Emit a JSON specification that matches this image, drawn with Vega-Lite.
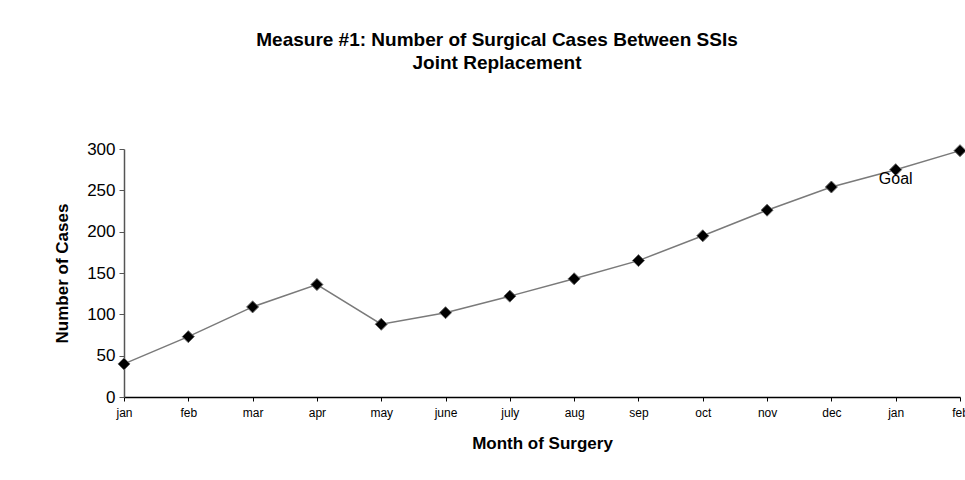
{
  "$schema": "https://vega.github.io/schema/vega-lite/v6.json",
  "autosize": "none",
  "width": 836,
  "height": 248,
  "padding": {"left": 124, "top": 149, "right": 5, "bottom": 83},
  "background": "white",
  "config": {
    "view": {"stroke": null},
    "font": "Liberation Sans"
  },
  "title": {
    "text": ["Measure #1: Number of Surgical Cases Between SSIs", "Joint  Replacement"],
    "fontSize": 19,
    "fontWeight": "bold",
    "font": "Liberation Sans",
    "color": "black",
    "lineHeight": 23,
    "anchor": "middle",
    "dx": -45,
    "offset": 67
  },
  "data": {
    "values": [
      {"period": "jan-1", "cases": 40},
      {"period": "feb-1", "cases": 73},
      {"period": "mar-1", "cases": 109},
      {"period": "apr-1", "cases": 136},
      {"period": "may-1", "cases": 88},
      {"period": "june-1", "cases": 102},
      {"period": "july-1", "cases": 122},
      {"period": "aug-1", "cases": 143},
      {"period": "sep-1", "cases": 165},
      {"period": "oct-1", "cases": 195},
      {"period": "nov-1", "cases": 226},
      {"period": "dec-1", "cases": 254},
      {"period": "jan-2", "cases": 275, "label": "Goal"},
      {"period": "feb-2", "cases": 298}
    ]
  },
  "encoding": {
    "x": {
      "field": "period",
      "type": "ordinal",
      "sort": null,
      "scale": {"type": "point", "padding": 0},
      "axis": {
        "title": "Month of Surgery",
        "labelExpr": "split(datum.value, '-')[0]",
        "labelAngle": 0,
        "labelFontSize": 12,
        "labelColor": "black",
        "labelPadding": 6,
        "labelOverlap": false,
        "labelFlush": false,
        "tickSize": 4,
        "tickColor": "black",
        "domainColor": "black",
        "domainWidth": 1.5,
        "titleFontSize": 17,
        "titleFontWeight": "bold",
        "titleColor": "black",
        "titlePadding": 17,
        "grid": false
      }
    },
    "y": {
      "field": "cases",
      "type": "quantitative",
      "scale": {"domain": [0, 300], "nice": false},
      "axis": {
        "title": "Number of Cases",
        "values": [0, 50, 100, 150, 200, 250, 300],
        "labelFontSize": 17,
        "labelColor": "black",
        "labelPadding": 4,
        "tickSize": 5,
        "tickColor": "#555555",
        "domainColor": "#555555",
        "domainWidth": 1.5,
        "titleFontSize": 17,
        "titleFontWeight": "bold",
        "titleColor": "black",
        "titlePadding": 15,
        "grid": false
      }
    }
  },
  "layer": [
    {"mark": {"type": "line", "color": "#7a7a7a", "strokeWidth": 1.5}},
    {"mark": {"type": "point", "shape": "diamond", "filled": true, "size": 144, "fill": "black", "stroke": "#666666", "strokeWidth": 1, "opacity": 1}},
    {
      "transform": [{"filter": "datum.label != null"}],
      "mark": {"type": "text", "dy": 9, "fontSize": 16, "color": "black", "align": "center", "baseline": "middle"},
      "encoding": {"text": {"field": "label"}}
    }
  ]
}
